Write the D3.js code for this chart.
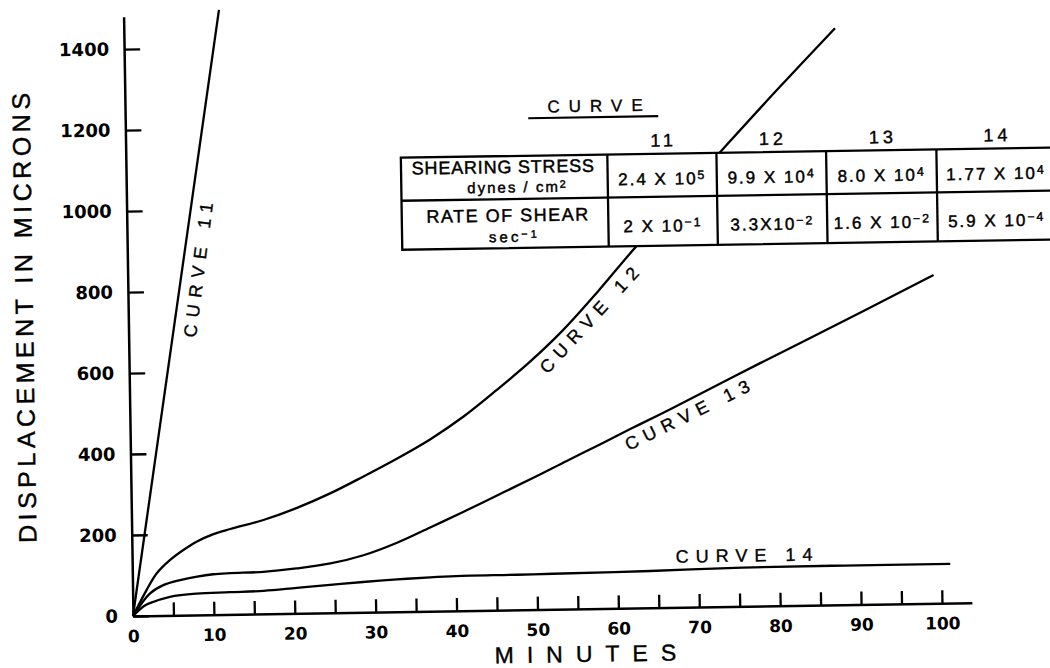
<!DOCTYPE html>
<html>
<head>
<meta charset="utf-8">
<script src="https://cdn.jsdelivr.net/npm/d3@7"></script>
<style>
  html, body { margin: 0; padding: 0; background: #fff; }
  svg { display: block; }
  text { fill: #000; }
</style>
</head>
<body>
<svg id="chart" width="1050" height="668"></svg>
<script>
// Displacement (microns) against time (minutes), one [minutes, microns] list per curve
const curve11 = [[0, 0], [11.8, 1493]];
const curve12 = [[0, 0], [1.74, 64], [3, 104], [4.7, 137], [6.35, 161], [8, 181], [10.1, 199],
  [12.2, 211], [16.3, 232], [20.4, 260], [24.6, 295], [28.7, 335], [32.9, 378], [37.1, 425],
  [41.2, 479], [45.4, 544], [49.6, 613], [53.7, 689], [57.9, 779], [62.1, 875], [68, 1005],
  [74.1, 1136], [81, 1282], [87.9, 1424]];
const curve13 = [[0, 0], [2.15, 55], [3.8, 75], [5.9, 87], [8, 95], [10, 100], [12.1, 102],
  [16.2, 104], [20.3, 111], [24.5, 122], [28.6, 141], [32.7, 170], [36.9, 207], [41, 244],
  [45.6, 287], [50, 328], [53.9, 366], [58.1, 406], [62, 444], [66, 482], [70.5, 526],
  [78, 600], [83, 648], [91.3, 729], [99.6, 811]];
const curve14 = [[0, 0], [1.3, 23], [2.1, 31], [4.6, 46], [7.9, 53], [12, 55], [16.2, 57],
  [20.3, 63], [24.4, 69], [28.5, 75], [32.7, 80], [36.8, 84], [40, 86], [47.5, 87], [52, 88],
  [64, 91], [75.4, 96], [88, 97], [101.1, 97]];

const curveNames = ["11", "12", "13", "14"];
const curveLabels = ["CURVE 11", "CURVE 12", "CURVE 13", "CURVE 14"];

// Test conditions per curve
const stressMantissa = ["2.4 X 10", "9.9 X 10", "8.0 X 10", "1.77 X 10"];
const stressExponent = ["5", "4", "4", "4"];
const rateMantissa = ["2 X 10", "3.3X10", "1.6 X 10", "5.9 X 10"];
const rateExponent = ["\u22121", "\u22122", "\u22122", "\u22124"];

const xTickLabels = [0, 10, 20, 30, 40, 50, 60, 70, 80, 90, 100];
const xTickMarks = [5, 10, 15, 20, 25, 30, 35, 40, 45, 50, 55, 60, 65, 70, 75, 80, 85, 90, 95, 100];
const yTickLabels = [0, 200, 400, 600, 800, 1000, 1200, 1400];

// ---------------------------------------------------------------- layout
const x = d3.scaleLinear().domain([0, 103.7]).range([133, 972]);
const y = d3.scaleLinear().domain([0, 1480]).range([616, 16.6]);

const svg = d3.select("#chart");
// the whole drawing sits on a slightly turned sheet
const g = svg.append("g").attr("transform", "rotate(-0.9,133,616)");

const INK = "#000";
const LABEL_FONT = "'Liberation Sans', Arial, sans-serif";
const NUM_FONT = "'DejaVu Sans', sans-serif";

// ---------------------------------------------------------------- curves
const smooth = d3.line().x(d => x(d[0])).y(d => y(d[1])).curve(d3.curveCatmullRom.alpha(0.5));
const straight = d3.line().x(d => x(d[0])).y(d => y(d[1]));

const curveGroup = g.append("g")
  .attr("fill", "none").attr("stroke", INK).attr("stroke-width", 2.3)
  .attr("stroke-linejoin", "round").attr("stroke-linecap", "butt");
curveGroup.append("path").attr("d", straight(curve11));
[curve12, curve13, curve14].forEach(c => curveGroup.append("path").attr("d", smooth(c)));

// curve captions, set along each curve
const captionPlacement = [
  { cx: 203.4, cy: 271, angle: -81.9 },
  { cx: 593.6, cy: 327.2, angle: -46.4 },
  { cx: 690.2, cy: 423.7, angle: -25.3 },
  { cx: 745, cy: 564.8, angle: 0 }
];
const captionSpacing = 7;
g.append("g").selectAll("text").data(curveLabels).join("text")
  .attr("transform", (d, i) => `translate(${captionPlacement[i].cx},${captionPlacement[i].cy}) rotate(${captionPlacement[i].angle})`)
  .attr("x", captionSpacing / 2)
  .attr("dy", "0.36em")
  .attr("text-anchor", "middle")
  .style("font-family", LABEL_FONT).style("font-size", "18px")
  .style("letter-spacing", captionSpacing + "px")
  .attr("stroke", INK).attr("stroke-width", 0.35)
  .text(d => d);

// ---------------------------------------------------------------- axes
const yAxis = d3.axisLeft(y).tickValues(yTickLabels)
  .tickSizeInner(-16).tickSizeOuter(0).tickPadding(15).tickFormat(d3.format("d"));
const yAxisG = g.append("g").attr("transform", `translate(${x(0)},0)`).call(yAxis);

const xTicks = d3.axisBottom(x).tickValues(xTickMarks)
  .tickSizeInner(-13).tickSizeOuter(0).tickFormat("");
const xTicksG = g.append("g").attr("transform", `translate(0,${y(0)})`).call(xTicks);

const xLabels = d3.axisBottom(x).tickValues(xTickLabels)
  .tickSize(0).tickPadding(14).tickFormat(d3.format("d"));
const xLabelsG = g.append("g").attr("transform", `translate(0,${y(0)})`).call(xLabels);
xLabelsG.select(".domain").remove();

[yAxisG, xTicksG].forEach(a => {
  a.select(".domain").attr("stroke", INK).attr("stroke-width", 2.5);
  a.selectAll(".tick line").attr("stroke", INK).attr("stroke-width", 2.3);
});
yAxisG.selectAll(".tick text").style("font-family", NUM_FONT).style("font-weight", "bold").style("font-size", "18px");
xLabelsG.selectAll(".tick text").style("font-family", NUM_FONT).style("font-weight", "bold").style("font-size", "17px");

// axis titles
g.append("text")
  .attr("transform", "translate(28.7,316.3) rotate(-90)")
  .attr("x", 2.2).attr("dy", "0.36em")
  .attr("text-anchor", "middle")
  .style("font-family", LABEL_FONT).style("font-size", "25px").style("letter-spacing", "4.5px")
  .attr("stroke", INK).attr("stroke-width", 0.4)
  .text("DISPLACEMENT IN MICRONS");

g.append("text")
  .attr("x", 494).attr("y", 669)
  .style("font-family", LABEL_FONT).style("font-size", "23px").style("letter-spacing", "13px")
  .attr("stroke", INK).attr("stroke-width", 0.4)
  .text("MINUTES");

// ---------------------------------------------------------------- table of test conditions
const tableLeft = 408, tableRight = 1062;
const colEdges = [614.5, 723.6, 833.3, 943.6, tableRight];
const rowTop = 162, rowMid = 205, rowBottom = 254;
const colCenter = i => (colEdges[i] + colEdges[i + 1]) / 2;
const labelCenter = (tableLeft + colEdges[0]) / 2;

const table = g.append("g");
table.append("rect")
  .attr("x", tableLeft).attr("y", rowTop)
  .attr("width", tableRight - tableLeft).attr("height", rowBottom - rowTop)
  .attr("fill", "#fff").attr("stroke", INK).attr("stroke-width", 2.3);
table.append("line")
  .attr("x1", tableLeft).attr("x2", tableRight).attr("y1", rowMid).attr("y2", rowMid)
  .attr("stroke", INK).attr("stroke-width", 2.3);
table.selectAll("line.col").data(colEdges.slice(0, 4)).join("line").attr("class", "col")
  .attr("x1", d => d).attr("x2", d => d).attr("y1", rowTop).attr("y2", rowBottom)
  .attr("stroke", INK).attr("stroke-width", 2.3);

// heading with underline
table.append("text")
  .attr("x", 603 + 4.5).attr("y", 119).attr("text-anchor", "middle")
  .style("font-family", LABEL_FONT).style("font-size", "17px").style("letter-spacing", "9px")
  .attr("stroke", INK).attr("stroke-width", 0.35)
  .text("CURVE");
table.append("line")
  .attr("x1", 536).attr("x2", 666).attr("y1", 124.5).attr("y2", 124.5)
  .attr("stroke", INK).attr("stroke-width", 2.2);

// column numbers
table.selectAll("text.colhead").data(curveNames).join("text").attr("class", "colhead")
  .attr("x", (d, i) => colCenter(i) + 2).attr("y", 155).attr("text-anchor", "middle")
  .style("font-family", LABEL_FONT).style("font-size", "18px").style("letter-spacing", "4px")
  .attr("stroke", INK).attr("stroke-width", 0.4)
  .text(d => d);

// row headings and values
function rowText(xc, yb, size, spacing, main, sup, supRaise) {
  const t = table.append("text")
    .attr("x", xc).attr("y", yb).attr("text-anchor", "middle")
    .style("font-family", LABEL_FONT).style("font-size", size + "px")
    .style("letter-spacing", spacing + "px")
    .attr("stroke", INK).attr("stroke-width", 0.45);
  t.append("tspan").text(main);
  if (sup) t.append("tspan").attr("dy", -(supRaise || 5)).style("font-size", (size * 0.72) + "px").text(sup);
  return t;
}
rowText(labelCenter - 1, 179, 18, 0.8, "SHEARING STRESS");
rowText(labelCenter + 13, 198.5, 15, 2, "dynes / cm", "2", 4);
rowText(labelCenter + 3, 227.5, 18, 1.5, "RATE OF SHEAR");
rowText(labelCenter + 9, 248, 15, 3, "sec", "\u22121", 4);

stressMantissa.forEach((m, i) => rowText(colCenter(i), 193, 17, 2, m, stressExponent[i]));
rateMantissa.forEach((m, i) => rowText(colCenter(i), 240, 17, 2, m, rateExponent[i]));
</script>
</body>
</html>
